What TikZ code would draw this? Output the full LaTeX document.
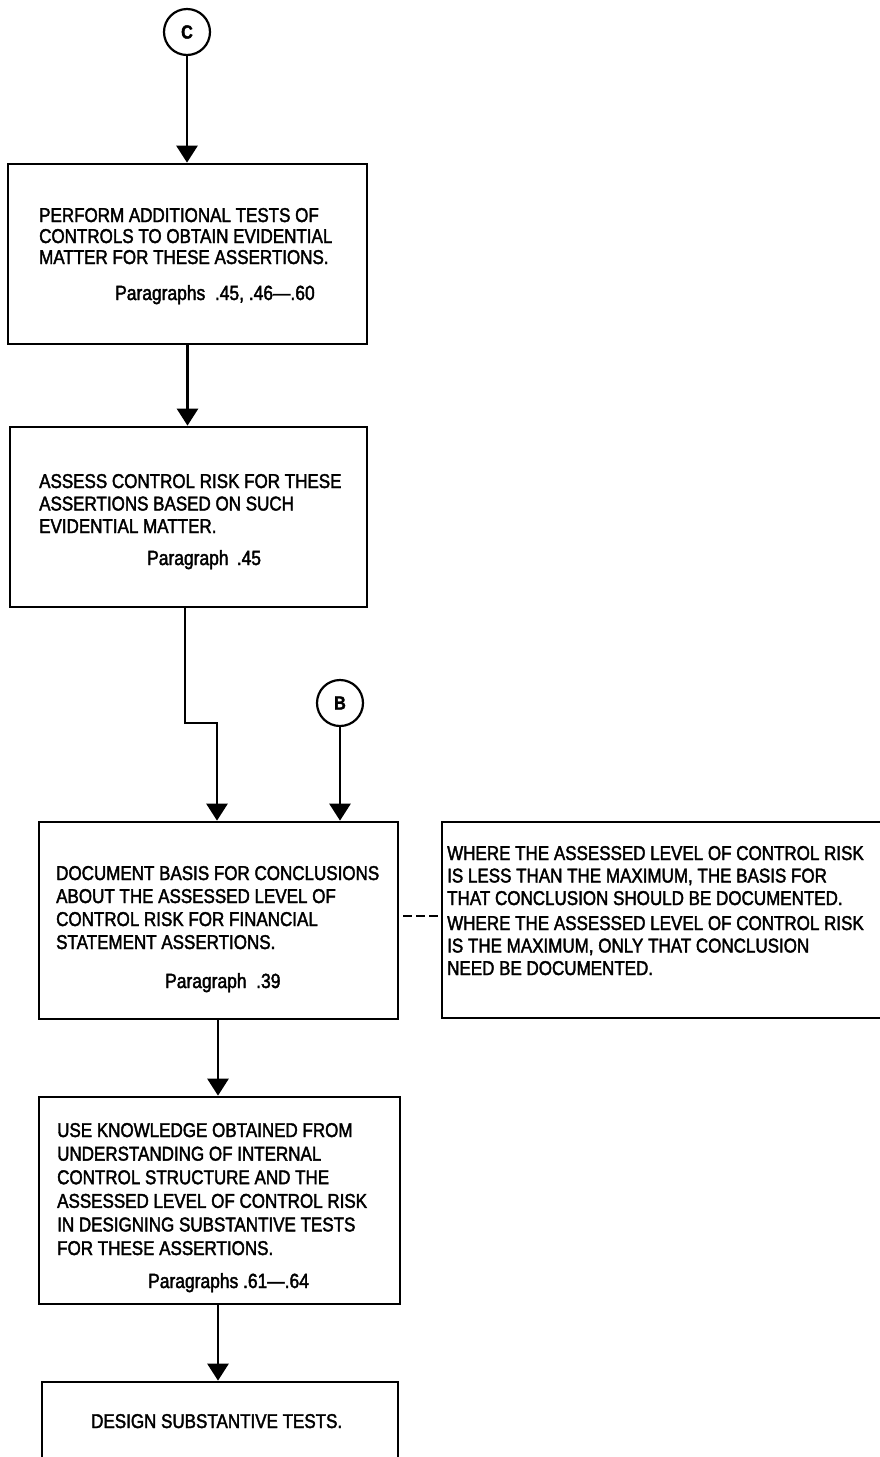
\documentclass[tikz,border=0pt]{standalone}
\usepackage{fontspec}
\setmainfont{Liberation Sans}[FakeStretch=0.85, FakeBold=2]
\usetikzlibrary{arrows.meta}
\begin{document}
\begin{tikzpicture}[x=1pt,y=-1pt,
  box/.style={draw, line width=2.7pt, inner sep=0pt},
  conn/.style={line width=2.7pt},
  arr/.style={conn, -{Triangle[length=17pt,width=21pt]}},
  % multi-line texts are placed by the baseline of their last line
  txt/.style={anchor=base west, inner sep=0pt, align=left},
  connector/.style={draw, circle, line width=2.2pt, minimum size=46pt,
    inner sep=0pt, font=\fontsize{19}{19}\selectfont\bfseries}
]
\useasboundingbox (0,0) rectangle (880,1457);

% off-page connectors
\node[connector] (C) at (187,32) {C};
\node[connector] (B) at (340,703) {B};

% process boxes
\node[box, minimum width=359pt, minimum height=180pt] (b1) at (187.5,254) {};
\node[box, minimum width=357pt, minimum height=180pt] (b2) at (188.5,517) {};
\node[box, minimum width=359pt, minimum height=197pt] (b3) at (218.5,920.5) {};
\node[box, minimum width=450pt, minimum height=196pt] (b4) at (667,920) {};
\node[box, minimum width=361pt, minimum height=207pt] (b5) at (219.5,1200.5) {};
\node[box, minimum width=356pt, minimum height=100pt] (b6) at (220,1432) {};

% box texts
\node[txt, font=\fontsize{20}{21}\selectfont] (t1) at (39,264)
  {PERFORM ADDITIONAL TESTS OF\\CONTROLS TO OBTAIN EVIDENTIAL\\MATTER FOR THESE ASSERTIONS.};
\node[txt, font=\fontsize{20.5}{21}\selectfont] (p1) at (115,300) {Paragraphs\ \ .45,\ .46—.60};

\node[txt, font=\fontsize{20}{22.5}\selectfont] (t2) at (39,533)
  {ASSESS CONTROL RISK FOR THESE\\ASSERTIONS BASED ON SUCH\\EVIDENTIAL MATTER.};
\node[txt, font=\fontsize{20.5}{22.5}\selectfont] (p2) at (147,565) {Paragraph\, .45};

\node[txt, font=\fontsize{20}{23}\selectfont] (t3) at (56,949)
  {DOCUMENT BASIS FOR CONCLUSIONS\\ABOUT THE ASSESSED LEVEL OF\\CONTROL RISK FOR FINANCIAL\\STATEMENT ASSERTIONS.};
\node[txt, font=\fontsize{20.5}{23}\selectfont] (p3) at (165,988) {Paragraph\ \ .39};

\node[txt, font=\fontsize{20}{22.5}\selectfont] (t4a) at (447,905)
  {WHERE THE ASSESSED LEVEL OF CONTROL RISK\\IS LESS THAN THE MAXIMUM, THE BASIS FOR\\THAT CONCLUSION SHOULD BE DOCUMENTED.};
\node[txt, font=\fontsize{20}{22.5}\selectfont] (t4b) at (447,975)
  {WHERE THE ASSESSED LEVEL OF CONTROL RISK\\IS THE MAXIMUM, ONLY THAT CONCLUSION\\NEED BE DOCUMENTED.};

\node[txt, font=\fontsize{20}{23.6}\selectfont] (t5) at (57,1255)
  {USE KNOWLEDGE OBTAINED FROM\\UNDERSTANDING OF INTERNAL\\CONTROL STRUCTURE AND THE\\ASSESSED LEVEL OF CONTROL RISK\\IN DESIGNING SUBSTANTIVE TESTS\\FOR THESE ASSERTIONS.};
\node[txt, font=\fontsize{20.5}{23}\selectfont] (p5) at (148,1288) {Paragraphs .61—.64};

\node[txt, font=\fontsize{20}{23}\selectfont] (t6) at (91,1428) {DESIGN SUBSTANTIVE TESTS.};

% flow connectors
\coordinate (j1) at (185,723);
\coordinate (j2) at (217,723);
\coordinate (d) at (0,916);
\coordinate (m) at (218,0);

\draw[arr] (C.south) -- (C.south |- b1.north);
\draw[arr] (b1.south) -- (b1.south |- b2.north);
\draw[arr] (b2.south -| j1) -- (j1) -- (j2) -- (j2 |- b3.north);
\draw[arr] (B.south) -- (B.south |- b3.north);
\draw[conn, dash pattern=on 9pt off 4pt, dash phase=9pt] (b3.east |- d) -- (b4.west |- d);
\draw[arr] (b3.south -| m) -- (b5.north -| m);
\draw[arr] (b5.south -| m) -- (b6.north -| m);
\end{tikzpicture}
\end{document}
